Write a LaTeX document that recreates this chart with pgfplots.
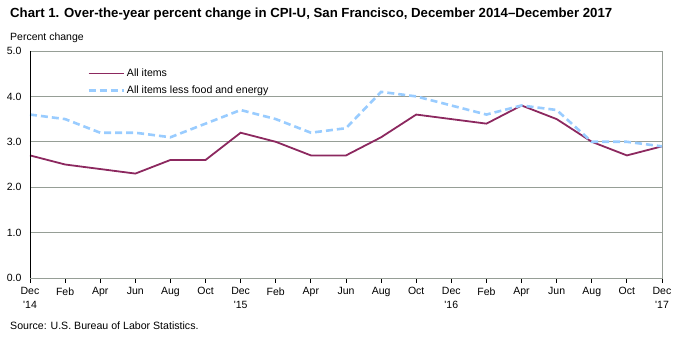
\documentclass[border=0pt]{standalone}
\usepackage{pgfplots}
\pgfplotsset{compat=1.18}
\usepackage{fontspec}
\setmainfont{Liberation Sans}
\definecolor{allc}{RGB}{140,40,95}
\definecolor{corec}{RGB}{153,204,255}
\definecolor{gridc}{RGB}{150,158,150}
\begin{document}
\begin{tikzpicture}
\path[use as bounding box] (0pt,0pt) rectangle (681pt,337pt);
\node[anchor=base west, font=\fontsize{13.2}{15}\selectfont\bfseries, inner sep=0pt] at (10pt,319pt) {Chart 1. Over-the-year percent change in CPI-U, San Francisco, December 2014--December 2017};
\node[anchor=base west, font=\fontsize{10.5}{12}\selectfont, inner sep=0pt] at (10pt,296pt) {Percent change};
\node[anchor=base west, font=\fontsize{10.6}{12}\selectfont, inner sep=0pt] at (10pt,7pt) {Source: U.S. Bureau of Labor Statistics.};
\begin{axis}[
  at={(30pt,59pt)}, anchor=south west, scale only axis,
  width=632pt, height=227pt,
  xmin=0, xmax=18, ymin=0, ymax=5,
  axis line style={gridc, line width=0.7pt},
  xtick={0,...,18},
  xticklabels={{Dec\\\textquotesingle14},Feb,Apr,Jun,Aug,Oct,{Dec\\\textquotesingle15},Feb,Apr,Jun,Aug,Oct,{Dec\\\textquotesingle16},Feb,Apr,Jun,Aug,Oct,{Dec\\\textquotesingle17}},
  xticklabel style={font=\fontsize{10.5}{13.5}\selectfont, align=center, yshift=-1pt},
  ytick={0,1,2,3,4,5},
  yticklabel style={font=\fontsize{10.5}{12}\selectfont, /pgf/number format/.cd, fixed, fixed zerofill, precision=1, assume math mode=true},
  xtick pos=bottom, ytick pos=left,
  tick align=outside, major tick length=5pt,
  x tick style={black, line width=0.8pt},
  y tick style={draw=none},
  ymajorgrids, grid style={gridc, line width=0.7pt},
  legend style={draw=none, fill=none, at={(axis description cs:0.0905,0.9306)}, anchor=north west, font=\fontsize{10.6}{12}\selectfont, row sep=4pt, inner sep=0pt},
  legend cell align=left,
  legend image code/.code={\draw[#1] (0pt,0pt) -- (35pt,0pt);},
]
\addplot[allc, line width=1.8pt] coordinates {
(0,2.7) (1,2.5) (2,2.4) (3,2.3) (4,2.6) (5,2.6) (6,3.2) (7,3.0) (8,2.7) (9,2.7)
(10,3.1) (11,3.6) (12,3.5) (13,3.4) (14,3.8) (15,3.5) (16,3.0) (17,2.7) (18,2.9)};
\addlegendentry{All items}
\addplot[corec, line width=2.6pt, dash pattern=on 7pt off 4pt] coordinates {
(0,3.6) (1,3.5) (2,3.2) (3,3.2) (4,3.1) (5,3.4) (6,3.7) (7,3.5) (8,3.2) (9,3.3)
(10,4.1) (11,4.0) (12,3.8) (13,3.6) (14,3.8) (15,3.7) (16,3.0) (17,3.0) (18,2.9)};
\addlegendentry{All items less food and energy}
\draw[black, line width=0.9pt] (rel axis cs:0,1) -- (rel axis cs:0,0) -- (rel axis cs:1,0);
\end{axis}
\end{tikzpicture}
\end{document}
